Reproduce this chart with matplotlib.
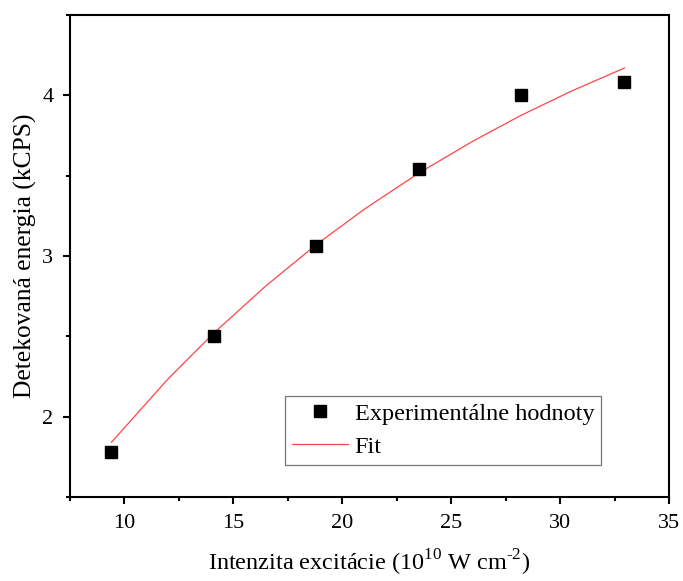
import matplotlib
matplotlib.use('Agg')
import matplotlib.pyplot as plt
from matplotlib.ticker import MultipleLocator

# measured points
intensity = [9.4, 14.1, 18.8, 23.5, 28.2, 32.95]
counts = [1.78, 2.50, 3.06, 3.54, 4.00, 4.08]

# fit curve
fit_x = [9.4, 12.0, 14.1, 16.5, 18.8, 21.0, 23.5, 26.0, 28.2, 30.5, 32.95]
fit_y = [1.84, 2.235, 2.52, 2.815, 3.07, 3.29, 3.515, 3.715, 3.875, 4.025, 4.17]

plt.rcParams['font.family'] = ['Liberation Serif', 'DejaVu Serif']
plt.rcParams['mathtext.fontset'] = 'custom'
plt.rcParams['mathtext.rm'] = 'Liberation Serif'

fig = plt.figure(figsize=(6.83, 5.81), dpi=100)
ax = fig.add_axes([70 / 683, 84 / 581, 599 / 683, 482 / 581])

ax.plot(fit_x, fit_y, color='#FF4545', linewidth=0.9, label='Fit', zorder=2)
ax.plot(intensity, counts, linestyle='none', marker='s', markersize=8,
        color='black', label='Experimentálne hodnoty', zorder=3)

ax.set_xlim(7.5, 35)
ax.set_ylim(1.5, 4.5)
ax.xaxis.set_major_locator(MultipleLocator(5))
ax.xaxis.set_minor_locator(MultipleLocator(2.5))
ax.yaxis.set_major_locator(MultipleLocator(1))
ax.yaxis.set_minor_locator(MultipleLocator(0.5))
ax.tick_params(which='both', direction='out', top=False, right=False,
               width=1.5, labelsize=16)
ax.tick_params(which='major', length=5, pad=7)
ax.tick_params(which='minor', length=3)
for s in ax.spines.values():
    s.set_linewidth(1.5)

ax.set_xlabel(r'Intenzita excitácie (10$^{10}$ W cm$^{\text{-}2}$)', fontsize=17.5, labelpad=11)
ax.set_ylabel('Detekovaná energia (kCPS)', fontsize=18.4, labelpad=4)

handles, labels = ax.get_legend_handles_labels()
leg = ax.legend(handles[::-1], labels[::-1], loc='upper left',
                bbox_to_anchor=(0.359, 0.2095), borderaxespad=0,
                fontsize=17.5, frameon=True,
                fancybox=False, edgecolor='#777777', framealpha=1,
                borderpad=0.28, labelspacing=0.45, handlelength=2.3,
                handletextpad=0.28)
leg.get_frame().set_linewidth(0.9)

plt.savefig('out.png', dpi=100)
plt.close()
